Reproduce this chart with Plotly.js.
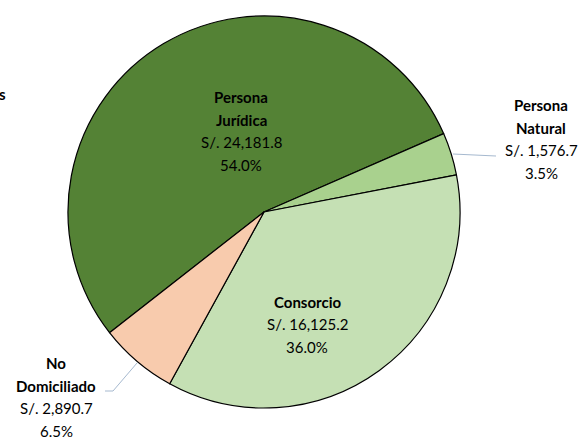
<!DOCTYPE html>
<html>
<head>
<meta charset="utf-8">
<script src="https://cdn.plot.ly/plotly-3.0.1.min.js"></script>
<style>html,body{margin:0;padding:0;background:#fff;}#chart{width:585px;height:439px;}</style>
</head>
<body>
<div id="chart"></div>
<script>
// ---- data ----
var categories = ["Persona Jurídica", "Persona Natural", "Consorcio", "No Domiciliado"];
var labelLines = [["Persona", "Jurídica"], ["Persona", "Natural"], ["Consorcio"], ["No", "Domiciliado"]];
var amounts = [24181.8, 1576.7, 16125.2, 2890.7];
var percents = [54.0, 3.5, 36.0, 6.5];
var colors = ["#548235", "#A9D18E", "#C5E0B4", "#F8CBAD"];

// ---- layout helpers (pixels -> paper) ----
var W = 585, H = 439;
function px(x) { return x / W; }
function py(y) { return 1 - y / H; }

// label block centres (pixels) and leader lines
var labelPos = [[241, 131], [541, 139], [307, 324], [56, 397]];
var lineGap = 22.5;
var leaders = [null, [[453, 154], [496, 156]], null, [[137, 363], [113, 391], [105, 391]]];

function fmt(v) {
  return "S/. " + v.toLocaleString("en-US", {minimumFractionDigits: 1, maximumFractionDigits: 1});
}

var annotations = [];
var FONT = "Lato, 'Liberation Sans', sans-serif";
for (var i = 0; i < categories.length; i++) {
  var lines = labelLines[i].map(function (t) { return {t: "<b>" + t + "</b>"}; });
  lines.push({t: fmt(amounts[i])});
  lines.push({t: percents[i].toFixed(1) + "%"});
  var n = lines.length;
  for (var k = 0; k < n; k++) {
    var yy = labelPos[i][1] + (k - (n - 1) / 2) * lineGap;
    annotations.push({
      x: px(labelPos[i][0]), y: py(yy), xref: "paper", yref: "paper",
      xanchor: "center", yanchor: "middle", showarrow: false,
      text: lines[k].t,
      font: {family: FONT, size: 15, color: "#000000"}
    });
  }
}
// clipped text at left edge
annotations.push({
  x: px(8), y: py(94), xref: "paper", yref: "paper", xanchor: "right", yanchor: "middle",
  showarrow: false, text: "<b>s</b>", font: {family: FONT, size: 15, color: "#000000"}
});

var shapes = [];
leaders.forEach(function (pts) {
  if (!pts) return;
  var d = pts.map(function (p, j) { return (j ? "L " : "M ") + px(p[0]) + " " + py(p[1]); }).join(" ");
  shapes.push({type: "path", xref: "paper", yref: "paper", path: d,
    line: {color: "#A6B9CF", width: 1}});
});

var trace = {
  type: "pie",
  labels: categories,
  values: amounts,
  sort: false,
  direction: "clockwise",
  rotation: 232,
  textinfo: "none",
  hoverinfo: "label+value+percent",
  marker: {colors: colors, line: {color: "#000000", width: 1.2}},
  domain: {x: [0.1162, 0.7863], y: [0.0706, 0.9636]},
  showlegend: false
};

var layout = {
  width: W, height: H,
  margin: {l: 0, r: 0, t: 0, b: 0},
  paper_bgcolor: "#ffffff",
  plot_bgcolor: "#ffffff",
  showlegend: false,
  annotations: annotations,
  shapes: shapes,
  font: {family: FONT}
};

Plotly.newPlot("chart", [trace], layout, {displayModeBar: false, staticPlot: true});
</script>
</body>
</html>
